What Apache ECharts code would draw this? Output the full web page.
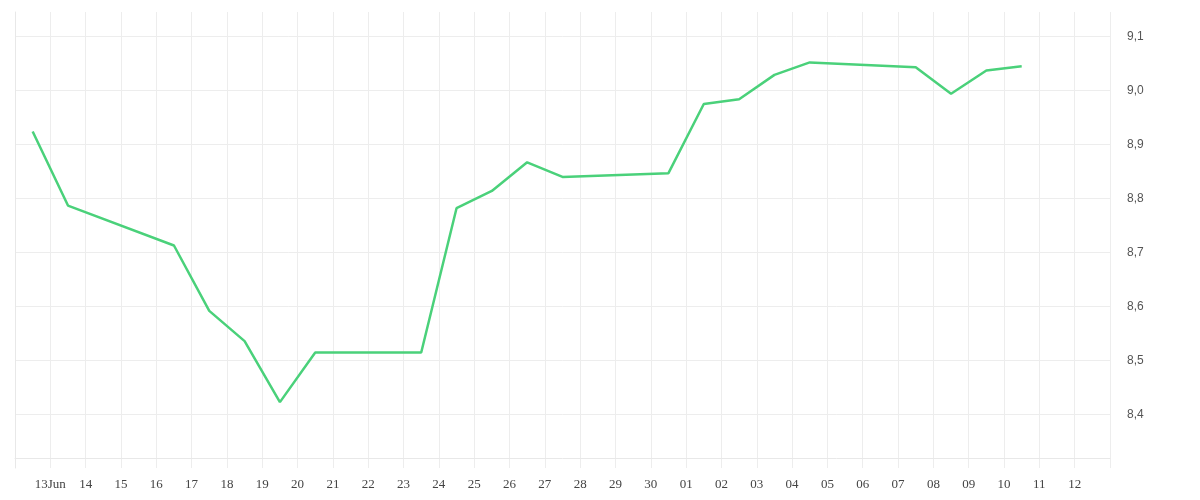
<!DOCTYPE html>
<html>
<head>
<meta charset="utf-8">
<script src="https://cdn.jsdelivr.net/npm/echarts@6/dist/echarts.min.js"></script>
<style>
  html, body { margin: 0; padding: 0; background: #ffffff; }
  #chart { width: 1200px; height: 500px; }
</style>
</head>
<body>
<div id="chart"></div>
<script>
// ---- data ----
const dates = [
  '2025-06-12 12:00', '2025-06-13 12:00', '2025-06-16 12:00', '2025-06-17 12:00',
  '2025-06-18 12:00', '2025-06-19 12:00', '2025-06-20 12:00', '2025-06-23 12:00',
  '2025-06-24 12:00', '2025-06-25 12:00', '2025-06-26 12:00', '2025-06-27 12:00',
  '2025-06-30 12:00', '2025-07-01 12:00', '2025-07-02 12:00', '2025-07-03 12:00',
  '2025-07-04 12:00', '2025-07-07 12:00', '2025-07-08 12:00', '2025-07-09 12:00',
  '2025-07-10 12:00'
];
const values = [
  8.923, 8.786, 8.712, 8.591,
  8.535, 8.422, 8.514, 8.514,
  8.781, 8.813, 8.866, 8.839,
  8.846, 8.974, 8.983, 9.028,
  9.051, 9.042, 8.993, 9.036,
  9.044
];
const axisStartDate = '2025-06-12';   // first day of the x range
const axisEndDate = '2025-07-13';     // last day of the x range
const yMin = 8.3;
const yMax = 9.1444;
const yStep = 0.1;
const monthNames = ['Jan','Feb','Mar','Apr','May','Jun','Jul','Aug','Sep','Oct','Nov','Dec'];

// ---- helpers ----
const DAY = 86400000;
function parseUTC(s) {
  const [d, t] = s.split(' ');
  const [Y, M, D] = d.split('-').map(Number);
  const [h, m] = (t || '00:00').split(':').map(Number);
  return Date.UTC(Y, M - 1, D, h, m);
}
const t0 = parseUTC(axisStartDate);
const tEnd = parseUTC(axisEndDate);
const xMax = Math.round((tEnd - t0) / DAY);
const seriesData = dates.map((d, i) => [(parseUTC(d) - t0) / DAY, values[i]]);

function xLabel(v) {
  const dt = new Date(t0 + v * DAY);
  const dd = String(dt.getUTCDate()).padStart(2, '0');
  if (v === 1) return dd + monthNames[dt.getUTCMonth()];
  return dd;
}

const chart = echarts.init(document.getElementById('chart'), null, { renderer: 'canvas' });
chart.setOption({
  animation: false,
  backgroundColor: '#ffffff',
  grid: { left: 15, right: 90, top: 12, bottom: 32, containLabel: false },
  xAxis: {
    type: 'value',
    min: 0,
    max: xMax,
    interval: 1,
    offset: -10,
    axisLine: { show: true, onZero: false, lineStyle: { color: '#e8e8e8', width: 1 } },
    axisTick: { show: false },
    splitLine: { show: true, lineStyle: { color: '#ededed', width: 1 } },
    axisLabel: {
      show: true,
      margin: 20,
      showMinLabel: false,
      showMaxLabel: false,
      color: '#444',
      fontFamily: 'Liberation Serif',
      fontSize: 13,
      formatter: xLabel
    }
  },
  yAxis: {
    type: 'value',
    position: 'right',
    min: yMin,
    max: yMax,
    interval: yStep,
    axisLine: { show: true, lineStyle: { color: '#e8e8e8', width: 1 } },
    axisTick: { show: false },
    splitLine: { show: true, showMinLine: false, showMaxLine: false, lineStyle: { color: '#ededed', width: 1 } },
    axisLabel: {
      margin: 17,
      verticalAlign: 'top',
      padding: [-5, 0, 0, 0],
      showMinLabel: false,
      showMaxLabel: false,
      color: '#555',
      fontFamily: 'Liberation Sans',
      fontSize: 12,
      formatter: v => v.toFixed(1).replace('.', ',')
    }
  },
  series: [{
    type: 'line',
    data: seriesData,
    showSymbol: false,
    symbol: 'none',
    smooth: false,
    lineStyle: { color: '#4ad17a', width: 2.5 },
    itemStyle: { color: '#4ad17a' }
  }]
});
</script>
</body>
</html>
